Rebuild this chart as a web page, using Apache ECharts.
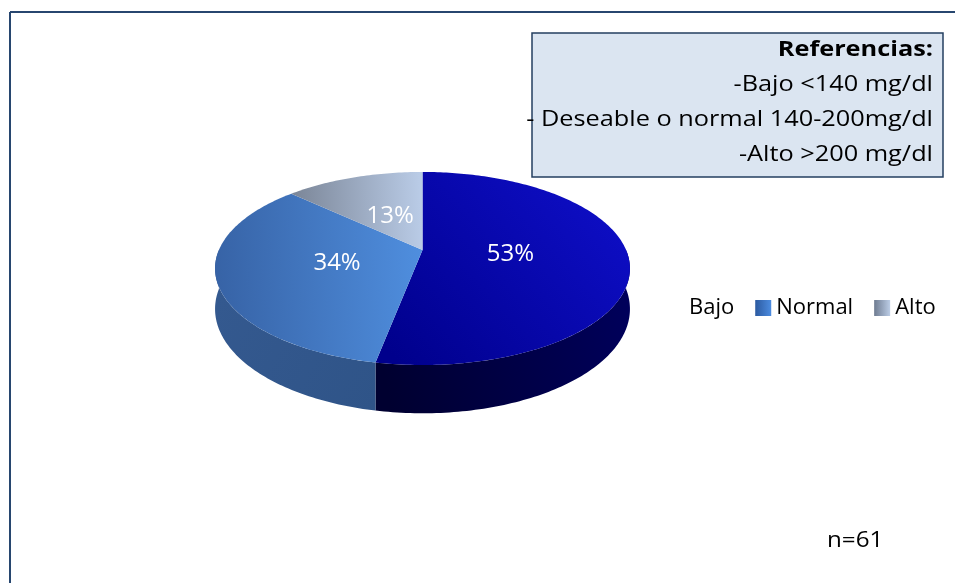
<!DOCTYPE html>
<html>
<head>
<meta charset="utf-8">
<script src="https://cdn.jsdelivr.net/npm/echarts@6/dist/echarts.min.js"></script>
<style>
  html, body { margin: 0; padding: 0; background: #ffffff; }
  #chart { width: 957px; height: 583px; }
</style>
</head>
<body>
<div id="chart"></div>
<script>
// Colesterol total: distribución por categoría
const categories = ['Bajo', 'Normal', 'Alto'];
const values = [53, 34, 13];
const sampleLabel = 'n=61';
const referenceTitle = 'Referencias:';
const referenceLines = ['-Bajo <140 mg/dl', '- Deseable o normal 140-200mg/dl', '-Alto >200 mg/dl'];

const FONT = '"Open Sans", Lato, sans-serif';

// Geometry of the tilted pie (perspective projection of a flat disc)
const PIE = { cx: 422.5, cy: 250, rx: 203.6, ry: 93, persp: 0.1916, depth: 39, labelR: 0.43 };

const total = values.reduce((a, b) => a + b, 0);
const starts = [];
let acc = 0;
values.forEach(v => { starts.push(acc); acc += v; });

// theta measured clockwise from 12 o'clock, r in [0,1], drop = 0 (top face) or 1 (bottom rim)
function project(theta, r, drop) {
  const u = Math.sin(theta) * r;
  const v = -Math.cos(theta) * r;
  const s = 1 / (1 - PIE.persp * v);
  return [PIE.cx + s * u * PIE.rx, PIE.cy + s * (v * PIE.ry + drop * PIE.depth)];
}

function grad(x1, y1, x2, y2, c1, c2) {
  return new echarts.graphic.LinearGradient(x1, y1, x2, y2,
    [{ offset: 0, color: c1 }, { offset: 1, color: c2 }], true);
}

const topFills = [
  grad(600, 185, 400, 365, '#0e0ec6', '#00008c'),
  grad(215, 260, 420, 250, '#3763a6', '#4f8ede'),
  grad(295, 200, 420, 195, '#7c8799', '#b9cbe6')
];
const wallFills = [
  grad(385, 380, 630, 330, '#000030', '#00005a'),
  grad(215, 300, 385, 390, '#34598f', '#2f5488'),
  grad(290, 300, 420, 300, '#6b7a90', '#9aaac0')
];

function arcPoints(a0, a1, r, drop) {
  const pts = [];
  const n = Math.max(2, Math.ceil((a1 - a0) / (Math.PI / 180)));
  for (let j = 0; j <= n; j++) {
    pts.push(project(a0 + (a1 - a0) * j / n, r, drop));
  }
  return pts;
}

function renderSlice(params, api) {
  const i = params.seriesIndex;
  const val = api.value(0);
  const a0 = starts[i] / total * Math.PI * 2;
  const a1 = (starts[i] + val) / total * Math.PI * 2;
  const children = [];

  // visible outer wall (front half of the disc)
  const w0 = Math.max(a0, Math.PI / 2);
  const w1 = Math.min(a1, Math.PI * 1.5);
  if (w1 > w0) {
    const topRim = arcPoints(w0, w1, 1, 0);
    const botRim = arcPoints(w0, w1, 1, 1).reverse();
    children.push({
      type: 'polygon', z2: 1,
      shape: { points: topRim.concat(botRim) },
      style: { fill: wallFills[i], stroke: null }
    });
  }

  // top face
  const face = [project(0, 0, 0)].concat(arcPoints(a0, a1, 1, 0));
  children.push({
    type: 'polygon', z2: 2,
    shape: { points: face },
    style: { fill: topFills[i], stroke: null }
  });

  // percentage label
  const mid = (a0 + a1) / 2;
  const lp = project(mid, PIE.labelR, 0);
  children.push({
    type: 'text', z2: 3,
    x: lp[0], y: lp[1],
    style: {
      text: Math.round(val / total * 100) + '%',
      fill: '#ffffff',
      font: '24px ' + FONT,
      align: 'center',
      verticalAlign: 'middle'
    }
  });

  return { type: 'group', children: children };
}

const legendIcons = [
  'transparent',
  new echarts.graphic.LinearGradient(0, 0, 1, 0, [{ offset: 0, color: '#2c5aa0' }, { offset: 1, color: '#4c8ce0' }]),
  new echarts.graphic.LinearGradient(0, 0, 1, 0, [{ offset: 0, color: '#6e7b90' }, { offset: 1, color: '#bccde6' }])
];

const series = categories.map((name, i) => ({
  type: 'custom',
  name: name,
  coordinateSystem: 'none',
  renderItem: renderSlice,
  silent: true,
  data: [[values[i]]]
}));

const refTexts = [referenceTitle].concat(referenceLines).map((t, j) => ({
  type: 'text',
  x: 933,
  y: 50 + j * 35,
  scaleX: 1.15,
  style: {
    text: t,
    fill: '#000000',
    font: (j === 0 ? 'bold ' : '') + '22px ' + FONT,
    align: 'right',
    verticalAlign: 'middle'
  }
}));

const option = {
  animation: false,
  backgroundColor: '#ffffff',
  legend: {
    left: 663,
    top: 292,
    icon: 'rect',
    itemWidth: 16,
    itemHeight: 16,
    itemGap: 21,
    selectedMode: false,
    textStyle: { fontFamily: FONT, fontSize: 22, color: '#000000' },
    data: categories.map((name, i) => ({
      name: name,
      itemStyle: { color: legendIcons[i], borderWidth: 0 }
    }))
  },
  graphic: [
    { type: 'line', shape: { x1: 10, y1: 12, x2: 955, y2: 12 }, style: { stroke: '#27466f', lineWidth: 2 } },
    { type: 'line', shape: { x1: 10, y1: 12, x2: 10, y2: 583 }, style: { stroke: '#27466f', lineWidth: 2 } },
    {
      type: 'rect',
      shape: { x: 532, y: 33, width: 411, height: 144 },
      style: { fill: '#dbe5f1', stroke: '#243f60', lineWidth: 1.5 }
    }
  ].concat(refTexts).concat([
    {
      type: 'text',
      x: 827,
      y: 541,
      scaleX: 1.1,
      style: { text: sampleLabel, fill: '#000000', font: '22px ' + FONT, verticalAlign: 'middle' }
    }
  ]),
  series: series
};

const chart = echarts.init(document.getElementById('chart'), null, { renderer: 'canvas' });
chart.setOption(option);
</script>
</body>
</html>
